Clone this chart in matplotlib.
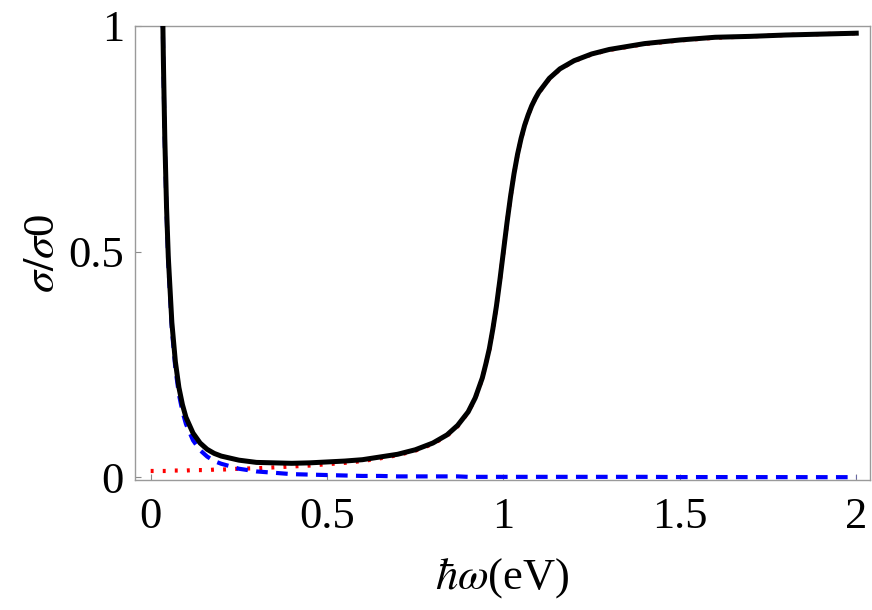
import numpy as np
import matplotlib
matplotlib.use('Agg')
import matplotlib.pyplot as plt

plt.rcParams['font.family'] = ['Liberation Serif', 'DejaVu Serif']
plt.rcParams['mathtext.fontset'] = 'stix'

# photon energy (eV)
energy = [0.0, 0.034, 0.036, 0.04, 0.045, 0.05, 0.06, 0.07, 0.08, 0.09, 0.1,
          0.12, 0.14, 0.16, 0.18, 0.2, 0.25, 0.3, 0.35, 0.4, 0.45, 0.5, 0.55,
          0.6, 0.65, 0.7, 0.75, 0.8, 0.84, 0.87, 0.9, 0.92, 0.93, 0.94, 0.95,
          0.96, 0.97, 0.98, 0.99, 1.0, 1.01, 1.02, 1.03, 1.04, 1.05, 1.06, 1.07,
          1.08, 1.09, 1.1, 1.13, 1.16, 1.2, 1.25, 1.3, 1.4,
          1.5, 1.6, 1.7, 1.8, 1.9, 2.0]

# total conductivity sigma/sigma0
total = [np.nan, 1.035, 0.924, 0.752, 0.597, 0.487, 0.343, 0.256, 0.199, 0.161, 0.133,
         0.098, 0.076, 0.062, 0.053, 0.047, 0.038, 0.033, 0.032, 0.031, 0.032, 0.034, 0.036,
         0.039, 0.045, 0.051, 0.061, 0.076, 0.094, 0.115, 0.145, 0.176, 0.198, 0.220, 0.251,
         0.285, 0.329, 0.379, 0.438, 0.501, 0.564, 0.622, 0.673, 0.716, 0.751, 0.780, 0.803,
         0.823, 0.839, 0.853, 0.884, 0.905, 0.923, 0.938, 0.948, 0.961,
         0.969, 0.975, 0.977, 0.980, 0.982, 0.984]

# intraband part (blue dashed)
intra = [np.nan, 1.021, 0.910, 0.738, 0.583, 0.472, 0.328, 0.241, 0.184, 0.146, 0.118,
         0.082, 0.060, 0.046, 0.036, 0.030, 0.019, 0.013, 0.010, 0.007, 0.006, 0.005, 0.004,
         0.003, 0.003, 0.002, 0.002, 0.002, 0.002, 0.002, 0.001, 0.001, 0.001, 0.001, 0.001,
         0.001, 0.001, 0.001, 0.001, 0.001, 0.001, 0.001, 0.001, 0.001, 0.001, 0.001, 0.001,
         0.001, 0.001, 0.001, 0.001, 0.001, 0.001, 0.001, 0.001, 0.001,
         0.0005, 0.0005, 0.0004, 0.0004, 0.0003, 0.0003]

# interband part (red dotted)
inter = [0.014, 0.014, 0.014, 0.014, 0.014, 0.015, 0.015, 0.015, 0.015, 0.015, 0.015,
         0.016, 0.016, 0.016, 0.017, 0.017, 0.019, 0.020, 0.022, 0.024, 0.026, 0.029, 0.032,
         0.036, 0.042, 0.049, 0.059, 0.074, 0.092, 0.113, 0.144, 0.175, 0.197, 0.219, 0.250,
         0.284, 0.328, 0.378, 0.437, 0.500, 0.563, 0.621, 0.672, 0.715, 0.750, 0.779, 0.803,
         0.822, 0.839, 0.852, 0.883, 0.904, 0.922, 0.937, 0.947, 0.960,
         0.968, 0.974, 0.977, 0.980, 0.982, 0.984]

xticks = [0, 0.5, 1, 1.5, 2]
xticklabels = ['0', '0.5', '1', '1.5', '2']
yticks = [0, 0.5, 1]
yticklabels = ['0', '0.5', '1']

fig = plt.figure(figsize=(8.72, 6.10), dpi=100)
ax = fig.add_axes([0.1548, 0.2131, 0.8429, 0.7443])

ax.plot(energy, inter, color='red', lw=3.0, linestyle=(0, (0.7, 2.2)), zorder=2)
ax.plot(energy, intra, color='blue', lw=3.0, linestyle=(0, (2.8, 2.0)), zorder=3)
ax.plot(energy, total, color='black', lw=3.6, zorder=4)

ax.set_xlim(-0.0445, 2.039)
ax.set_ylim(-0.006, 1.0)
ax.set_xticks(xticks)
ax.set_xticklabels(xticklabels)
ax.set_yticks(yticks)
ax.set_yticklabels(yticklabels)

for sp in ax.spines.values():
    sp.set_color('#9a9a9a')
    sp.set_linewidth(1.0)
ax.tick_params(direction='in', length=4.5, width=0.8, color='#8a8a8a',
               labelsize=32, top=False, right=False)
ax.tick_params(axis='x', pad=12)
ax.tick_params(axis='y', pad=8)

ax.set_xlabel(r'$\hbar\omega$(eV)', fontsize=32, labelpad=14)
ax.set_ylabel(r'$\sigma/\sigma$0', fontsize=32, labelpad=4)

fig.savefig('out.png', dpi=100)
